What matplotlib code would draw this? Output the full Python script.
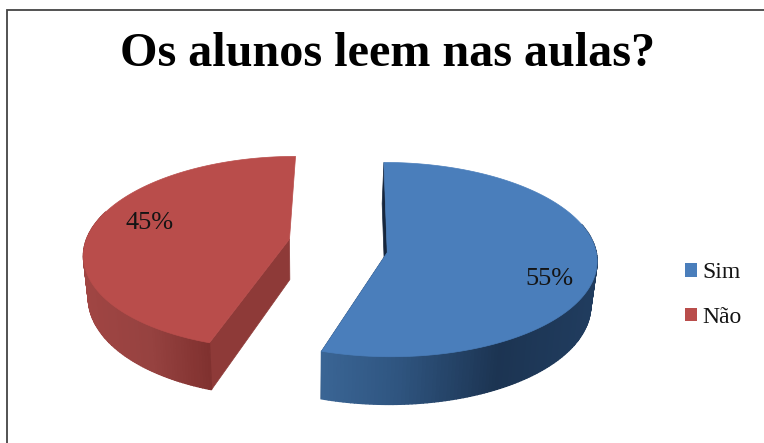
import numpy as np
import matplotlib
matplotlib.use('Agg')
import matplotlib.pyplot as plt
from matplotlib.colors import to_rgb
from matplotlib.patches import Patch

title = 'Os alunos leem nas aulas?'
categories = ['Sim', 'Não']
values = [55, 45]
top_colors = ['#4a7ebb', '#b94d4b']
cut_colors = ['#16263d', '#8e3a38']

# pie geometry, in pixels on the page
CX, CY = 338, 246
VANISH_X = 305
SHRINK = 0.022
depths = [44, 41]
tilts = [0.46, 0.47]
persps = [0.00035, 0.0007]
centers = [(49, -14), (-49, 15)]
radii = [208, 205]
label_pos = [(549, 279), (150, 223)]
# side wall shading: page x -> colour
side_x = [[323, 400, 500, 590], [85, 150, 210, 290]]
side_c = [['#3a6595', '#2f5580', '#1c3452', '#203c5e'],
          ['#a04543', '#964240', '#80312f', '#80312f']]


def project(X, Y, i):
    s = 1 / (1 + persps[i] * Y)
    return CX + X * s, CY - tilts[i] * Y * s, s


def drop(x, y, s, i):
    return x + (VANISH_X - x) * SHRINK, y + depths[i] * s


def side_color(i, x):
    rgb = np.array([to_rgb(c) for c in side_c[i]])
    return [np.interp(x, side_x[i], rgb[:, k]) for k in range(3)]


fig = plt.figure(figsize=(7.64, 4.43), dpi=100)
ax = fig.add_axes([0, 0, 1, 1])
ax.set_xlim(0, 764)
ax.set_ylim(443, 0)
ax.axis('off')

# chart frame, only top and left show up
ax.plot([7, 7, 764], [443, 10, 10], color='#444444', lw=1.3, solid_joinstyle='miter')

start = 0.0
for i, v in enumerate(values):
    sweep = 2 * np.pi * v / sum(values)
    theta = np.linspace(start, start + sweep, 200)
    start += sweep
    cx, cy = centers[i]
    X = cx + radii[i] * np.sin(theta)
    Y = cy + radii[i] * np.cos(theta)
    px, py, s = project(X, Y, i)
    ax0, ay0, s0 = project(cx, cy, i)
    bx, by = drop(px, py, s, i)
    bx0, by0 = drop(ax0, ay0, s0, i)

    # flat cut faces first, then the curved wall, then the top
    for j in (0, -1):
        # a back face only shows when its lower edge leans left
        if py[j] > ay0 or bx[j] < px[j]:
            ax.fill([ax0, px[j], bx[j], bx0], [ay0, py[j], by[j], by0],
                    color=cut_colors[i], lw=0.5)
    for j in range(len(theta) - 1):
        # the far part of the wall is hidden behind the top
        if np.cos(theta[j]) > 0.3:
            continue
        col = side_color(i, px[j])
        ax.fill([px[j], px[j + 1], bx[j + 1], bx[j]],
                [py[j], py[j + 1], by[j + 1], by[j]], color=col, lw=1.0)
    ax.fill(np.r_[ax0, px], np.r_[ay0, py], color=top_colors[i], lw=0.5)

    ax.text(label_pos[i][0], label_pos[i][1], f'{v}%', family='Liberation Serif',
            fontsize=19, color='#141414', ha='center', va='center')

ax.text(387.5, 54, title, family='Liberation Serif', weight='bold', fontsize=34.7,
        color='black', ha='center', va='center')

handles = [Patch(facecolor=c, edgecolor='none') for c in top_colors]
ax.legend(handles, categories, loc='center left', bbox_to_anchor=(680 / 764, 1 - 295 / 443),
          frameon=False, prop={'family': 'Liberation Serif', 'size': 17},
          handlelength=0.52, handleheight=0.52, handletextpad=0.22, labelspacing=1.0,
          borderpad=0, borderaxespad=0.2, labelcolor='#141414')

fig.savefig('out.png', dpi=100)
